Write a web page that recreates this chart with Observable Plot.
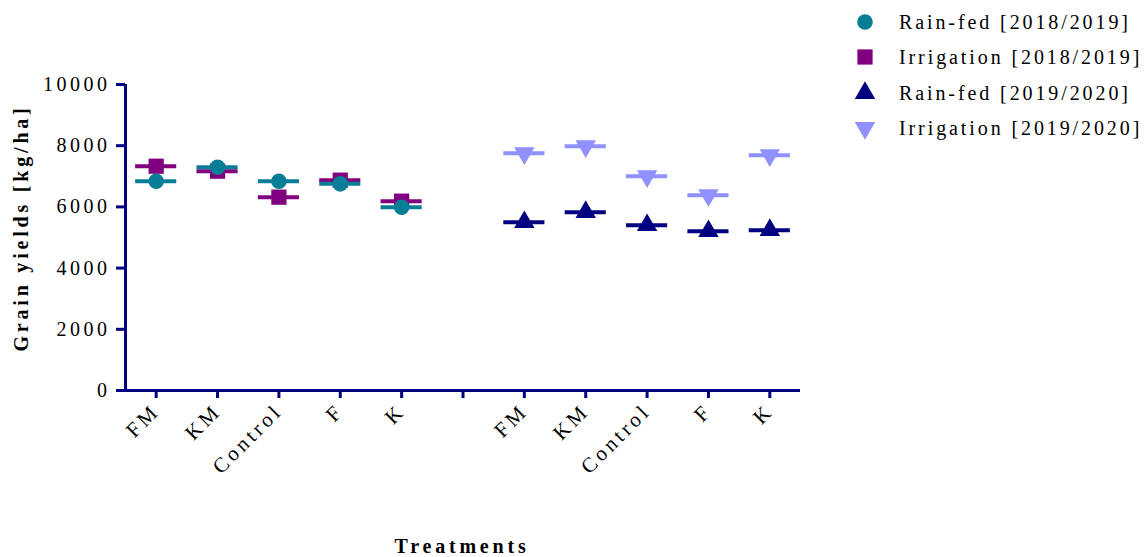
<!DOCTYPE html>
<html><head><meta charset="utf-8">
<script src="https://cdn.jsdelivr.net/npm/d3@7"></script>
<script src="https://cdn.jsdelivr.net/npm/@observablehq/plot@0.6"></script>
<style>
html,body{margin:0;padding:0;background:#fff;}
#chart{position:relative;width:1146px;height:557px;}
</style></head>
<body><div id="chart"></div>
<script>
const xLabels = ["FM","KM","Control","F","K","","FM","KM","Control","F","K"];
const idx2018 = [0,1,2,3,4];
const idx2020 = [6,7,8,9,10];
const rain2018 = [6840, 7298, 6840, 6754, 5990];
const irr2018  = [7330, 7167, 6318, 6873, 6187];
const rain2020 = [5500, 5827, 5402, 5206, 5239];
const irr2020  = [7755, 7984, 7004, 6382, 7690];
const seriesNames = ["Rain-fed [2018/2019]","Irrigation [2018/2019]","Rain-fed [2019/2020]","Irrigation [2019/2020]"];
const yTicks = [0,2000,4000,6000,8000,10000];

const NAVY = "#000080", TEAL = "#087E96", PURPLE = "#800080", LIGHT = "#9090FF";
const triangleDown = {draw(ctx, size){
  const s = Math.sqrt(size / (Math.sqrt(3)/4)); const h = s*Math.sqrt(3)/2;
  ctx.moveTo(-s/2, -h/3); ctx.lineTo(s/2, -h/3); ctx.lineTo(0, 2*h/3); ctx.closePath();
}};
const triangleUp = {draw(ctx, size){
  const s = Math.sqrt(size / (Math.sqrt(3)/4)); const h = s*Math.sqrt(3)/2;
  ctx.moveTo(-s/2, h/3); ctx.lineTo(s/2, h/3); ctx.lineTo(0, -2*h/3); ctx.closePath();
}};
const mk = (idx, vals) => idx.map((i,k) => ({i, v: vals[k]}));
const series = [
  {data: mk(idx2018, irr2018), color: PURPLE, symbol: "square", r: 8.6},
  {data: mk(idx2018, rain2018), color: TEAL, symbol: "circle", r: 7.8},
  {data: mk(idx2020, irr2020), color: LIGHT, symbol: triangleDown, r: 7.6},
  {data: mk(idx2020, rain2020), color: NAVY, symbol: triangleUp, r: 7.6},
];
const marks = [];
for (const s of series) {
  marks.push(Plot.ruleY(s.data, {y: "v", x1: d => d.i - 0.335, x2: d => d.i + 0.335, stroke: s.color, strokeWidth: 4}));
  marks.push(Plot.dot(s.data, {x: "i", y: "v", symbol: s.symbol, fill: s.color, stroke: "none", r: s.r}));
}
const chart = Plot.plot({
  width: 1146, height: 557,
  marginLeft: 125, marginRight: 346, marginTop: 84, marginBottom: 167,
  style: {fontFamily: "Liberation Serif", fontSize: "20px", letterSpacing: "2.5px", color: "black", background: "white", overflow: "visible"},
  x: {domain: [-0.5, 10.5]},
  y: {domain: [0, 10000]},
  marks: [
    Plot.axisY({ticks: yTicks, tickSize: 9, tickPadding: 6, fontSize: 20, stroke: NAVY, strokeWidth: 3, label: null, tickFormat: d => String(d)}),
    Plot.axisX({ticks: d3.range(11), tickFormat: i => xLabels[i], tickRotate: -45, tickSize: 8, tickPadding: 9, fontSize: 21, stroke: NAVY, strokeWidth: 3, label: null}),
    Plot.ruleY([0], {stroke: NAVY, strokeWidth: 3}),
    Plot.ruleX([-0.5], {stroke: NAVY, strokeWidth: 3}),
    ...marks
  ]
});
document.getElementById("chart").appendChild(chart);
const svg = d3.select(chart);
svg.selectAll("g[aria-label='x-axis tick label'] text").style("letter-spacing", "3.5px");
svg.selectAll("g[aria-label='y-axis tick label'] text").style("letter-spacing", "3.5px");
svg.append("text").attr("transform", "translate(28,228) rotate(-90)")
  .attr("text-anchor", "middle").attr("font-weight", "bold").attr("font-size", 20)
  .style("letter-spacing", "3.8px")
  .attr("fill", "black").text("Grain yields [kg/ha]");
svg.append("text").attr("x", 462).attr("y", 553)
  .attr("text-anchor", "middle").attr("font-weight", "bold").attr("font-size", 20)
  .style("letter-spacing", "3.8px")
  .attr("fill", "black").text("Treatments");
const legendSyms = [d3.symbolCircle, d3.symbolSquare, triangleUp, triangleDown];
const legendColors = [TEAL, PURPLE, NAVY, LIGHT];
const legendR = [7.8, 8.6, 7.6, 7.6];
const legendY = [22, 57, 93, 128];
seriesNames.forEach((name, k) => {
  svg.append("path").attr("transform", `translate(865,${legendY[k]})`)
    .attr("d", d3.symbol(legendSyms[k], Math.PI * legendR[k] ** 2)()).attr("fill", legendColors[k]);
  svg.append("text").attr("x", 899).attr("y", legendY[k] + 7).attr("fill", "black")
    .attr("text-anchor", "start").attr("font-size", 20).style("letter-spacing", "2.9px").text(name);
});
</script></body></html>
